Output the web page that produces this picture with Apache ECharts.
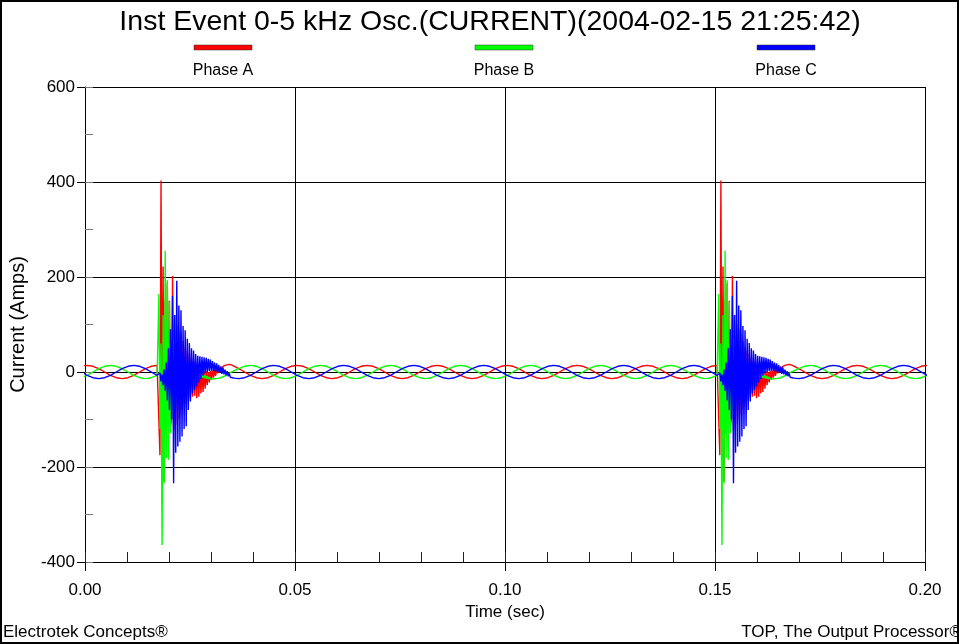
<!DOCTYPE html>
<html>
<head>
<meta charset="utf-8">
<script src="https://cdn.jsdelivr.net/npm/echarts@6/dist/echarts.min.js"></script>
<style>
  html, body { margin: 0; padding: 0; background: #fff; }
  #chart { width: 959px; height: 644px; }
</style>
</head>
<body>
<div id="chart"></div>
<script>
'use strict';

// 60 Hz steady-state samples (12 per cycle), first sample just before t = 0
var sineStart = 0.0005 - 1 / 720;
var sineStep = 1 / 720;

var sineA = [12,
  14, 12, 7, 0, -7, -12, -14, -12, -7, 0, 7, 12,
  14, 12, 7, 0, -7, -12, -14, -12, -7, 0, 7, 12,
  14, 12, 7, 0, -7, -12, -14, -12, -7, 0, 7, 12,
  14, 12, 7, 0, -7, -12, -14, -12, -7, 0, 7, 12,
  14, 12, 7, 0, -7, -12, -14, -12, -7, 0, 7, 12,
  14, 12, 7, 0, -7, -12, -14, -12, -7, 0, 7, 12,
  14, 12, 7, 0, -7, -12, -14, -12, -7, 0, 7, 12,
  14, 12, 7, 0, -7, -12, -14, -12, -7, 0, 7, 12,
  14, 12, 7, 0, -7, -12, -14, -12, -7, 0, 7, 12,
  14, 12, 7, 0, -7, -12, -14, -12, -7, 0, 7, 12,
  14, 12, 7, 0, -7, -12, -14, -12, -7, 0, 7, 12,
  14, 12, 7, 0, -7, -12, -14, -12, -7, 0, 7, 12,
  14];

var sineB = [-12,
  -7, 0, 7, 12, 14, 12, 7, 0, -7, -12, -14, -12,
  -7, 0, 7, 12, 14, 12, 7, 0, -7, -12, -14, -12,
  -7, 0, 7, 12, 14, 12, 7, 0, -7, -12, -14, -12,
  -7, 0, 7, 12, 14, 12, 7, 0, -7, -12, -14, -12,
  -7, 0, 7, 12, 14, 12, 7, 0, -7, -12, -14, -12,
  -7, 0, 7, 12, 14, 12, 7, 0, -7, -12, -14, -12,
  -7, 0, 7, 12, 14, 12, 7, 0, -7, -12, -14, -12,
  -7, 0, 7, 12, 14, 12, 7, 0, -7, -12, -14, -12,
  -7, 0, 7, 12, 14, 12, 7, 0, -7, -12, -14, -12,
  -7, 0, 7, 12, 14, 12, 7, 0, -7, -12, -14, -12,
  -7, 0, 7, 12, 14, 12, 7, 0, -7, -12, -14, -12,
  -7, 0, 7, 12, 14, 12, 7, 0, -7, -12, -14, -12,
  -7];

var sineC = [0,
  -7, -12, -14, -12, -7, 0, 7, 12, 14, 12, 7, 0,
  -7, -12, -14, -12, -7, 0, 7, 12, 14, 12, 7, 0,
  -7, -12, -14, -12, -7, 0, 7, 12, 14, 12, 7, 0,
  -7, -12, -14, -12, -7, 0, 7, 12, 14, 12, 7, 0,
  -7, -12, -14, -12, -7, 0, 7, 12, 14, 12, 7, 0,
  -7, -12, -14, -12, -7, 0, 7, 12, 14, 12, 7, 0,
  -7, -12, -14, -12, -7, 0, 7, 12, 14, 12, 7, 0,
  -7, -12, -14, -12, -7, 0, 7, 12, 14, 12, 7, 0,
  -7, -12, -14, -12, -7, 0, 7, 12, 14, 12, 7, 0,
  -7, -12, -14, -12, -7, 0, 7, 12, 14, 12, 7, 0,
  -7, -12, -14, -12, -7, 0, 7, 12, 14, 12, 7, 0,
  -7, -12, -14, -12, -7, 0, 7, 12, 14, 12, 7, 0,
  -7];

// switching transients (both events look the same, 8 cycles apart)
var burstStarts = [0.0176, 0.1509];
var burstStep = 0.00025;

var burstA = [10, -175, 403, -157, 222, -231, 150, -130, 187, -122,
  150, -115, -100, 202, -122, 120, -110, 100, -100, 88,
  -90, 82, -80, 65, -70, 52, -66, 45, -60, 40,
  -55, 30, -52, 22, -50, 15, -55, 10, -52, 6,
  -45, 4, -42, 2, -35, 2, -28, 0, -22, 2,
  -16, 3, -12, 5, -8, 6, -3, 8, 0, 10,
  4, 12, 8, 14, 10, 15, 12, 16, 12, 15,
  12, 13, 11];

var burstB = [164, -120, 60, -364, 120, -234, 255, -181, 193, -185,
  148, -129, 90, -80, 70, -55, 55, -40, 45, -30,
  38, -20, 32, -15, 28, -10, 22, -8, 18, -6,
  14, -6, 10, -8, 5, -9, 2, -10, 0, -11,
  -3, -12, -5, -13, -7, -14, -9, -15, -10, -15,
  -11, -15, -12, -14, -12, -14, -11, -13, -10, -12,
  -9, -10, -7, -8, -5, -6, -3, -3, -1, 0,
  1, 2, 3];

var burstC = [-9, -2, -20, -5, -28, 5, -40, 20, -60, 50,
  -80, 90, -100, 160, -234, 120, -170, 192, -157, 140,
  -147, 130, -136, 97, -120, 88, -114, 70, -80, 61,
  -62, 50, -45, 45, -38, 38, -30, 34, -22, 33,
  -15, 32, -8, 31, -3, 30, 0, 28, 2, 26,
  2, 23, 1, 20, 0, 18, -1, 15, -2, 12,
  -4, 9, -5, 5, -7, 2, -9, -3, -11, -7,
  -12, -11, -13];

var phaseNames = ['Phase A', 'Phase B', 'Phase C'];
var phaseColors = ['#ff0000', '#00ff00', '#0000ff'];

function buildPhase(sine, burst) {
    var span = (burst.length - 1) * burstStep;
    var pts = [];
    for (var k = 0; k < sine.length; k++) {
        var t = sineStart + k * sineStep;
        var inBurst = burstStarts.some(function(s) { return t >= s && t <= s + span; });
        if (!inBurst) pts.push([t, sine[k]]);
    }
    burstStarts.forEach(function(s) {
        burst.forEach(function(v, i) { pts.push([s + i * burstStep, v]); });
    });
    pts.sort(function(a, b) { return a[0] - b[0]; });
    return pts;
}

var phaseData = [buildPhase(sineA, burstA), buildPhase(sineB, burstB), buildPhase(sineC, burstC)];

var font = 'Liberation Sans';
var chart = echarts.init(document.getElementById('chart'), null, { renderer: 'canvas' });

var legendGraphics = [];
var legendX = [223, 504, 786];
phaseNames.forEach(function(name, i) {
    legendGraphics.push({
        type: 'rect',
        shape: { x: legendX[i] - 29, y: 45, width: 58, height: 5 },
        style: { fill: phaseColors[i], stroke: '#333', lineWidth: 0.5 }
    });
    legendGraphics.push({
        type: 'text',
        style: {
            text: name, x: legendX[i], y: 71, fill: '#000',
            font: '16px ' + font, textAlign: 'center', textVerticalAlign: 'middle'
        }
    });
});

var option = {
    animation: false,
    backgroundColor: '#fff',
    grid: { left: 85, right: 34, top: 87, bottom: 82, outerBoundsMode: 'none' },
    xAxis: [{
        type: 'value', min: 0, max: 0.2, interval: 0.05,
        name: 'Time (sec)', nameLocation: 'middle', nameGap: 38,
        nameTextStyle: { fontFamily: font, fontSize: 17, color: '#000' },
        axisLine: { show: true, onZero: false, lineStyle: { color: '#000', width: 1 } },
        axisTick: { show: true, length: 9, lineStyle: { color: '#000' } },
        axisLabel: { fontFamily: font, fontSize: 17, color: '#000', margin: 20,
            formatter: function(v) { return v.toFixed(2); } },
        splitLine: { show: true, lineStyle: { color: '#000', width: 1 } }
    }, {
        type: 'value', min: 0, max: 0.2, interval: 0.01, position: 'bottom',
        axisLine: { show: false, onZero: false },
        axisTick: { show: true, inside: true, length: 10, lineStyle: { color: '#222' } },
        axisLabel: { show: false },
        splitLine: { show: false }
    }],
    yAxis: [{
        type: 'value', min: -400, max: 600, interval: 200,
        name: 'Current (Amps)', nameLocation: 'middle', nameGap: 57,
        nameTextStyle: { fontFamily: font, fontSize: 20, color: '#000' },
        axisLine: { show: true, onZero: false, lineStyle: { color: '#000', width: 1 } },
        axisTick: { show: true, length: 8, lineStyle: { color: '#000' } },
        axisLabel: { fontFamily: font, fontSize: 17, color: '#000', margin: 10 },
        splitLine: { show: true, lineStyle: { color: '#000', width: 1 } }
    }, {
        type: 'value', min: -400, max: 600, interval: 100, position: 'left', offset: 0,
        axisLine: { show: false, onZero: false },
        axisTick: { show: true, inside: true, length: 8, lineStyle: { color: '#777' } },
        axisLabel: { show: false },
        splitLine: { show: false }
    }],
    series: phaseData.map(function(d, i) {
        return {
            name: phaseNames[i], type: 'line', data: d,
            xAxisIndex: 0, yAxisIndex: 0,
            showSymbol: false, symbol: 'none', sampling: null,
            lineStyle: { color: phaseColors[i], width: 1.4 },
            z: 2 + i
        };
    }),
    graphic: legendGraphics.concat([
        {
            type: 'text',
            style: {
                text: 'Inst Event 0-5 kHz Osc.(CURRENT)(2004-02-15 21:25:42)',
                x: 490, y: 22, fill: '#000', font: '28.5px ' + font,
                textAlign: 'center', textVerticalAlign: 'middle'
            }
        },
        {
            type: 'text',
            style: { text: 'Electrotek Concepts®', x: 3, y: 632, fill: '#000',
                font: '17px ' + font, textAlign: 'left', textVerticalAlign: 'middle' }
        },
        {
            type: 'text',
            style: { text: 'TOP, The Output Processor®', x: 962, y: 632, fill: '#000',
                font: '17px ' + font, textAlign: 'right', textVerticalAlign: 'middle' }
        },
        {
            type: 'rect', z: 100,
            shape: { x: 1, y: 1, width: 957, height: 642 },
            style: { fill: 'none', stroke: '#000', lineWidth: 2 }
        }
    ])
};

chart.setOption(option);
</script>
</body>
</html>
